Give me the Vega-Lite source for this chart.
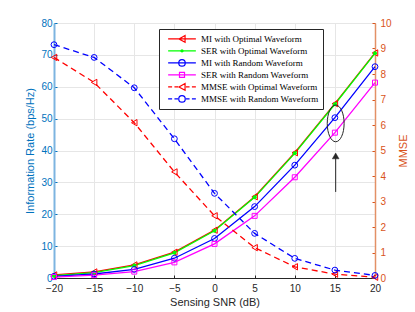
{
  "$schema": "https://vega.github.io/schema/vega-lite/v6.json",
  "width": 321,
  "height": 255,
  "autosize": "none",
  "padding": {"left": 54, "top": 23, "right": 40, "bottom": 34},
  "background": "white",
  "config": {
    "view": {"stroke": "#262626", "strokeWidth": 1},
    "axis": {"labelFont": "Liberation Sans", "titleFont": "Liberation Sans", "titleFontWeight": "normal", "labelFontSize": 10, "titleFontSize": 11, "labelFlush": false, "labelOverlap": false}
  },
  "datasets": {
    "curves": [
      {"s": "MI with Optimal Waveform", "g": "rate", "x": -20, "v": 0.95},
      {"s": "MI with Optimal Waveform", "g": "rate", "x": -15, "v": 1.9},
      {"s": "MI with Optimal Waveform", "g": "rate", "x": -10, "v": 4.1},
      {"s": "MI with Optimal Waveform", "g": "rate", "x": -5, "v": 8.1},
      {"s": "MI with Optimal Waveform", "g": "rate", "x": 0, "v": 15.0},
      {"s": "MI with Optimal Waveform", "g": "rate", "x": 5, "v": 25.5},
      {"s": "MI with Optimal Waveform", "g": "rate", "x": 10, "v": 39.3},
      {"s": "MI with Optimal Waveform", "g": "rate", "x": 15, "v": 54.7},
      {"s": "MI with Optimal Waveform", "g": "rate", "x": 20, "v": 70.6},
      {"s": "SER with Optimal Waveform", "g": "rate", "x": -20, "v": 0.7},
      {"s": "SER with Optimal Waveform", "g": "rate", "x": -15, "v": 1.7},
      {"s": "SER with Optimal Waveform", "g": "rate", "x": -10, "v": 3.9},
      {"s": "SER with Optimal Waveform", "g": "rate", "x": -5, "v": 7.9},
      {"s": "SER with Optimal Waveform", "g": "rate", "x": 0, "v": 14.8},
      {"s": "SER with Optimal Waveform", "g": "rate", "x": 5, "v": 25.3},
      {"s": "SER with Optimal Waveform", "g": "rate", "x": 10, "v": 39.1},
      {"s": "SER with Optimal Waveform", "g": "rate", "x": 15, "v": 54.5},
      {"s": "SER with Optimal Waveform", "g": "rate", "x": 20, "v": 70.5},
      {"s": "MI with Random Waveform", "g": "rate", "x": -20, "v": 0.5},
      {"s": "MI with Random Waveform", "g": "rate", "x": -15, "v": 1.25},
      {"s": "MI with Random Waveform", "g": "rate", "x": -10, "v": 2.7},
      {"s": "MI with Random Waveform", "g": "rate", "x": -5, "v": 6.2},
      {"s": "MI with Random Waveform", "g": "rate", "x": 0, "v": 12.4},
      {"s": "MI with Random Waveform", "g": "rate", "x": 5, "v": 22.4},
      {"s": "MI with Random Waveform", "g": "rate", "x": 10, "v": 35.4},
      {"s": "MI with Random Waveform", "g": "rate", "x": 15, "v": 50.3},
      {"s": "MI with Random Waveform", "g": "rate", "x": 20, "v": 66.3},
      {"s": "SER with Random Waveform", "g": "rate", "x": -20, "v": 0.3},
      {"s": "SER with Random Waveform", "g": "rate", "x": -15, "v": 0.9},
      {"s": "SER with Random Waveform", "g": "rate", "x": -10, "v": 2.0},
      {"s": "SER with Random Waveform", "g": "rate", "x": -5, "v": 4.9},
      {"s": "SER with Random Waveform", "g": "rate", "x": 0, "v": 10.7},
      {"s": "SER with Random Waveform", "g": "rate", "x": 5, "v": 19.5},
      {"s": "SER with Random Waveform", "g": "rate", "x": 10, "v": 31.6},
      {"s": "SER with Random Waveform", "g": "rate", "x": 15, "v": 45.6},
      {"s": "SER with Random Waveform", "g": "rate", "x": 20, "v": 61.3},
      {"s": "MMSE with Optimal Waveform", "g": "mmse", "x": -20, "v": 8.65},
      {"s": "MMSE with Optimal Waveform", "g": "mmse", "x": -15, "v": 7.67},
      {"s": "MMSE with Optimal Waveform", "g": "mmse", "x": -10, "v": 6.09},
      {"s": "MMSE with Optimal Waveform", "g": "mmse", "x": -5, "v": 4.16},
      {"s": "MMSE with Optimal Waveform", "g": "mmse", "x": 0, "v": 2.44},
      {"s": "MMSE with Optimal Waveform", "g": "mmse", "x": 5, "v": 1.19},
      {"s": "MMSE with Optimal Waveform", "g": "mmse", "x": 10, "v": 0.44},
      {"s": "MMSE with Optimal Waveform", "g": "mmse", "x": 15, "v": 0.15},
      {"s": "MMSE with Optimal Waveform", "g": "mmse", "x": 20, "v": 0.03},
      {"s": "MMSE with Random Waveform", "g": "mmse", "x": -20, "v": 9.15},
      {"s": "MMSE with Random Waveform", "g": "mmse", "x": -15, "v": 8.65},
      {"s": "MMSE with Random Waveform", "g": "mmse", "x": -10, "v": 7.46},
      {"s": "MMSE with Random Waveform", "g": "mmse", "x": -5, "v": 5.46},
      {"s": "MMSE with Random Waveform", "g": "mmse", "x": 0, "v": 3.32},
      {"s": "MMSE with Random Waveform", "g": "mmse", "x": 5, "v": 1.75},
      {"s": "MMSE with Random Waveform", "g": "mmse", "x": 10, "v": 0.77},
      {"s": "MMSE with Random Waveform", "g": "mmse", "x": 15, "v": 0.31},
      {"s": "MMSE with Random Waveform", "g": "mmse", "x": 20, "v": 0.1}
    ]
  },
  "layer": [
    {
      "resolve": {"axis": {"x": "independent", "y": "independent"}, "legend": {"color": "independent", "shape": "independent"}},
      "layer": [
        {
          "data": {"name": "curves"},
          "transform": [{"filter": "datum.g === 'rate'"}],
          "mark": {"type": "line", "strokeWidth": 1.3},
          "encoding": {
            "x": {"field": "x", "type": "quantitative", "scale": {"domain": [-20, 20], "nice": false},
              "axis": {"values": [-20, -15, -10, -5, 0, 5, 10, 15, 20], "title": "Sensing SNR (dB)", "grid": true, "gridColor": "#e6e6e6",
                "domainColor": "#262626", "tickColor": "#262626", "tickSize": -3, "labelPadding": 8.5, "labelColor": "#262626",
                "titleColor": "#262626", "titlePadding": 3}},
            "y": {"field": "v", "type": "quantitative", "scale": {"domain": [0, 80], "nice": false},
              "axis": {"orient": "left", "values": [0, 10, 20, 30, 40, 50, 60, 70, 80], "title": "Information Rate (bps/Hz)", "grid": true, "gridColor": "#e6e6e6",
                "domainColor": "#7db4e0", "domainWidth": 2, "tickColor": "#0072BD", "tickSize": -3, "labelPadding": 5,
                "labelColor": "#0072BD", "titleColor": "#0072BD", "titlePadding": 5}},
            "color": {"field": "s", "type": "nominal", "legend": null,
              "scale": {"domain": ["MI with Optimal Waveform", "SER with Optimal Waveform", "MI with Random Waveform", "SER with Random Waveform", "MMSE with Optimal Waveform", "MMSE with Random Waveform"],
                "range": ["#ff0000", "#00ff00", "#0000ff", "#ff00ff", "#ff0000", "#0000ff"]}}
          }
        },
        {
          "data": {"name": "curves"},
          "transform": [{"filter": "datum.s === 'MI with Optimal Waveform'"}],
          "mark": {"type": "point", "shape": "triangle-left", "filled": false, "strokeWidth": 1, "size": 40, "opacity": 1},
          "encoding": {
            "x": {"field": "x", "type": "quantitative", "axis": null},
            "y": {"field": "v", "type": "quantitative", "axis": null},
            "color": {"field": "s", "type": "nominal", "legend": null}
          }
        },
        {
          "data": {"name": "curves"},
          "transform": [{"filter": "datum.s === 'SER with Optimal Waveform'"}],
          "mark": {"type": "point", "shape": "circle", "filled": true, "size": 16, "opacity": 1},
          "encoding": {
            "x": {"field": "x", "type": "quantitative", "axis": null},
            "y": {"field": "v", "type": "quantitative", "axis": null},
            "color": {"field": "s", "type": "nominal", "legend": null}
          }
        },
        {
          "data": {"name": "curves"},
          "transform": [{"filter": "datum.s === 'MI with Random Waveform'"}],
          "mark": {"type": "point", "shape": "circle", "filled": false, "strokeWidth": 1, "size": 34, "opacity": 1},
          "encoding": {
            "x": {"field": "x", "type": "quantitative", "axis": null},
            "y": {"field": "v", "type": "quantitative", "axis": null},
            "color": {"field": "s", "type": "nominal", "legend": null}
          }
        },
        {
          "data": {"name": "curves"},
          "transform": [{"filter": "datum.s === 'SER with Random Waveform'"}],
          "mark": {"type": "point", "shape": "square", "filled": false, "strokeWidth": 1, "size": 25, "opacity": 1},
          "encoding": {
            "x": {"field": "x", "type": "quantitative", "axis": null},
            "y": {"field": "v", "type": "quantitative", "axis": null},
            "color": {"field": "s", "type": "nominal", "legend": null}
          }
        },
        {
          "data": {"name": "curves"},
          "transform": [{"filter": "datum.x === 20"}],
          "mark": {"type": "point", "filled": false, "opacity": 0},
          "encoding": {
            "x": {"field": "x", "type": "quantitative", "axis": null},
            "y": {"field": "v", "type": "quantitative", "axis": null},
            "color": {"field": "s", "type": "nominal",
              "legend": {
                "orient": "none", "legendX": 105, "legendY": 6, "title": null,
                "fillColor": "white", "strokeColor": "#262626", "padding": 4,
                "labelFont": "Liberation Serif", "labelFontSize": 9, "labelColor": "#000000", "labelLimit": 300,
                "symbolSize": 1296, "symbolStrokeWidth": 1.2, "symbolOpacity": 1, "clipHeight": 11.8, "rowPadding": 0, "labelOffset": 0
              }},
            "shape": {"field": "s", "type": "nominal",
              "scale": {"domain": ["MI with Optimal Waveform", "SER with Optimal Waveform", "MI with Random Waveform", "SER with Random Waveform", "MMSE with Optimal Waveform", "MMSE with Random Waveform"],
                "range": [
                  "M-0.77,0L0.77,0M0.17,-0.19L-0.17,0L0.17,0.19Z",
                  "M-0.77,0L0.77,0M0.06,0A0.06,0.06,0,1,1,-0.06,0A0.06,0.06,0,1,1,0.06,0Z",
                  "M-0.77,0L0.77,0M0.18,0A0.18,0.18,0,1,1,-0.18,0A0.18,0.18,0,1,1,0.18,0Z",
                  "M-0.77,0L0.77,0M-0.14,-0.14L0.14,-0.14L0.14,0.14L-0.14,0.14Z",
                  "M-0.77,0L-0.55,0M-0.42,0L-0.22,0M0.22,0L0.42,0M0.55,0L0.77,0M0.17,-0.19L-0.17,0L0.17,0.19Z",
                  "M-0.77,0L-0.55,0M-0.42,0L-0.22,0M0.22,0L0.42,0M0.55,0L0.77,0M0.18,0A0.18,0.18,0,1,1,-0.18,0A0.18,0.18,0,1,1,0.18,0Z"
                ]},
              "legend": {
                "orient": "none", "legendX": 105, "legendY": 6, "title": null,
                "fillColor": "white", "strokeColor": "#262626", "padding": 4,
                "labelFont": "Liberation Serif", "labelFontSize": 9, "labelColor": "#000000", "labelLimit": 300,
                "symbolSize": 1296, "symbolStrokeWidth": 1.2, "symbolOpacity": 1, "clipHeight": 11.8, "rowPadding": 0, "labelOffset": 0
              }}
          }
        },
        {
          "data": {"values": [{"x": 15.1, "v": 48.5}]},
          "mark": {"type": "point", "shape": "M-0.46,0A0.46,1,0,1,0,0.46,0A0.46,1,0,1,0,-0.46,0Z", "size": 1347, "filled": false, "stroke": "#262626", "strokeWidth": 1, "opacity": 1},
          "encoding": {
            "x": {"field": "x", "type": "quantitative", "axis": null},
            "y": {"field": "v", "type": "quantitative", "axis": null}
          }
        },
        {
          "data": {"values": [{"x": 15.1, "v": 27, "v2": 38}]},
          "mark": {"type": "rule", "stroke": "#262626", "strokeWidth": 1},
          "encoding": {
            "x": {"field": "x", "type": "quantitative", "axis": null},
            "y": {"field": "v", "type": "quantitative", "axis": null},
            "y2": {"field": "v2"}
          }
        },
        {
          "data": {"values": [{"x": 15.1, "v": 38.3}]},
          "mark": {"type": "point", "shape": "triangle-up", "size": 45, "filled": true, "fill": "#262626", "stroke": "#262626", "strokeWidth": 0.5, "opacity": 1},
          "encoding": {
            "x": {"field": "x", "type": "quantitative", "axis": null},
            "y": {"field": "v", "type": "quantitative", "axis": null}
          }
        }
      ]
    },
    {
      "resolve": {"axis": {"x": "independent", "y": "independent"}, "legend": {"color": "independent"}},
      "layer": [
        {
          "data": {"name": "curves"},
          "transform": [{"filter": "datum.g === 'mmse'"}],
          "mark": {"type": "line", "strokeWidth": 1.3, "strokeDash": [6, 4]},
          "encoding": {
            "x": {"field": "x", "type": "quantitative", "axis": null},
            "y": {"field": "v", "type": "quantitative", "scale": {"domain": [0, 10], "nice": false},
              "axis": {"orient": "right", "values": [0, 1, 2, 3, 4, 5, 6, 7, 8, 9, 10], "title": "MMSE", "grid": false,
                "domainColor": "#e39066", "domainWidth": 1.5, "tickColor": "#D95319", "tickSize": -3, "labelPadding": 8,
                "labelColor": "#D95319", "titleColor": "#D95319", "titleAngle": 270, "titleBaseline": "top", "titlePadding": 6.5}},
            "color": {"field": "s", "type": "nominal", "legend": null}
          }
        },
        {
          "data": {"name": "curves"},
          "transform": [{"filter": "datum.s === 'MMSE with Optimal Waveform'"}],
          "mark": {"type": "point", "shape": "triangle-left", "filled": false, "strokeWidth": 1, "size": 40, "opacity": 1},
          "encoding": {
            "x": {"field": "x", "type": "quantitative", "axis": null},
            "y": {"field": "v", "type": "quantitative", "axis": null},
            "color": {"field": "s", "type": "nominal", "legend": null}
          }
        },
        {
          "data": {"name": "curves"},
          "transform": [{"filter": "datum.s === 'MMSE with Random Waveform'"}],
          "mark": {"type": "point", "shape": "circle", "filled": false, "strokeWidth": 1, "size": 34, "opacity": 1},
          "encoding": {
            "x": {"field": "x", "type": "quantitative", "axis": null},
            "y": {"field": "v", "type": "quantitative", "axis": null},
            "color": {"field": "s", "type": "nominal", "legend": null}
          }
        }
      ]
    }
  ],
  "resolve": {"scale": {"y": "independent"}, "axis": {"x": "independent", "y": "independent"}, "legend": {"color": "independent", "shape": "independent"}}
}
